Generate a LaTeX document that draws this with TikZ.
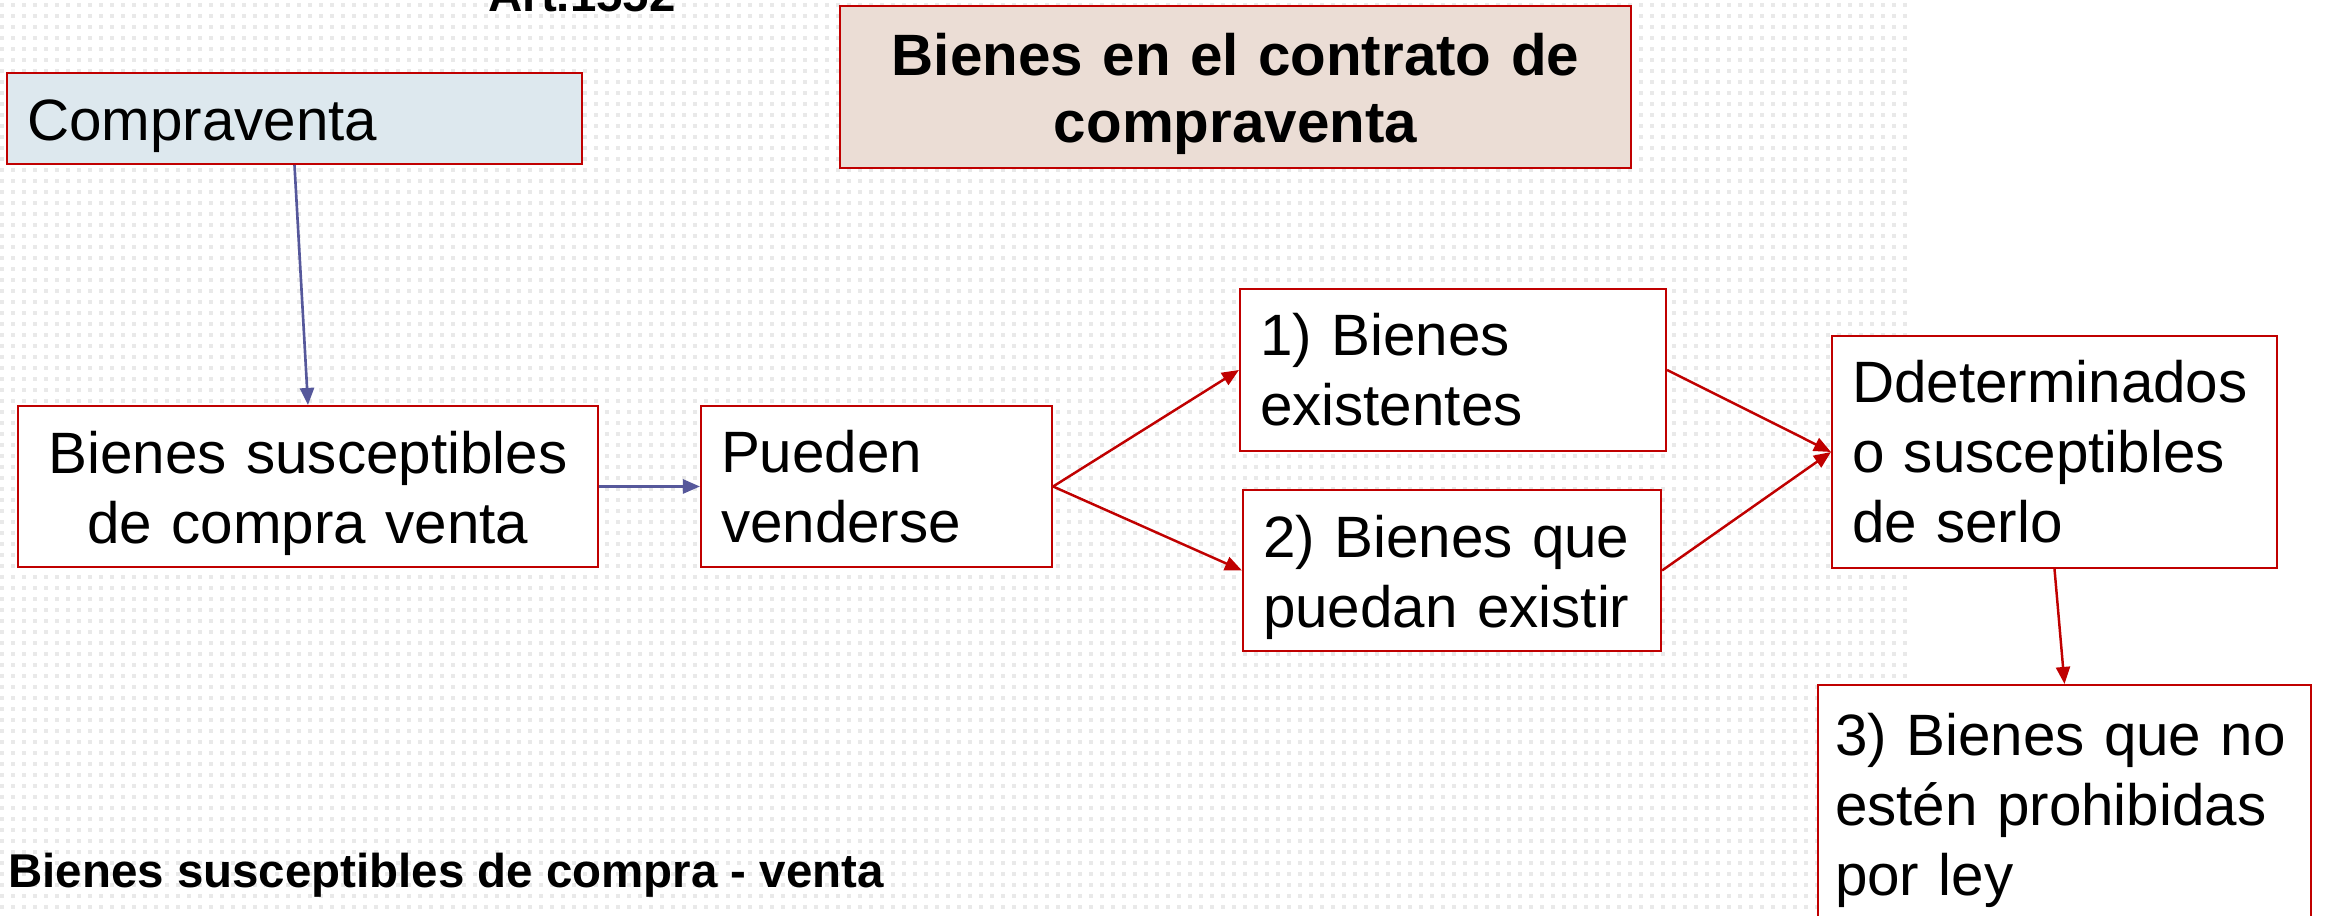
\documentclass[tikz,border=0pt]{standalone}
\usepackage{fontspec}
\setmainfont{Liberation Sans}
\usetikzlibrary{arrows.meta, positioning}
\definecolor{boxred}{RGB}{192,0,0}
\definecolor{linkblue}{RGB}{86,88,155}
\definecolor{compfill}{RGB}{221,232,238}
\definecolor{titlefill}{RGB}{235,221,213}
\definecolor{dotgray}{RGB}{233,233,233}
\tikzset{
  box/.style     = {draw=boxred, line width=0.6pt, fill=white, align=left,
                    inner xsep=0.2cm, inner ysep=0pt,
                    font=\fontsize{16.6}{19.9}\selectfont},
  titlebox/.style = {box, fill=titlefill, align=center,
                    font=\fontsize{16.6}{19}\selectfont\bfseries},
  lower/.style   = {execute at begin node={\rule{0pt}{16pt}}},
  label/.style   = {font=\fontsize{13.5}{16}\selectfont\bfseries, inner sep=0pt},
  bluearrow/.style = {-{Triangle[length=0.17cm, width=0.14cm]}, line width=0.75pt, color=linkblue},
  redarrow/.style  = {-{Triangle[length=0.17cm, width=0.14cm]}, line width=0.7pt, color=boxred},
  dotrow/.style  = {dotgray, line width=0.035cm, dash pattern=on 0.035cm off 0.075cm},
}

\begin{document}
\begin{tikzpicture}
  \useasboundingbox[fill=white] (0,0) rectangle (23.26,-9.16);
  % dotted background
  \foreach \r in {0,...,83} {
    \draw[dotrow] (0,{-0.05-0.11*\r}) -- (19.09,{-0.05-0.11*\r});
  }
  % texts
  \node[label, anchor=base] (art) at (5.82,-0.12) {Art.1552};
  \node[label, anchor=base west] (pie) at (0.076,-8.88) {Bienes susceptibles de compra - venta};
  % nodes
  \node[titlebox, lower, text width=7.51cm, minimum height=1.62cm] (titulo) at (12.355,-0.87)
    {Bienes en el contrato de\\ compraventa};
  \node[box, lower, fill=compfill, text width=5.35cm, minimum height=0.91cm] (comp) at (2.945,-1.185)
    {Compraventa};
  \node[box, lower, align=center, text width=5.40cm, minimum height=1.61cm] (bsc) at (3.08,-4.865)
    {Bienes susceptibles\\ de compra venta};
  \node[box, text width=3.11cm, minimum height=1.61cm] (pueden) at (8.765,-4.865)
    {Pueden\\ venderse};
  \node[box, text width=3.86cm, minimum height=1.62cm] (exist) at (14.53,-3.70)
    {1) Bienes\\ existentes};
  \node[box, lower, text width=3.78cm, minimum height=1.61cm] (posib) at (14.52,-5.705)
    {2) Bienes que\\ puedan existir};
  \node[box, text width=4.05cm, minimum height=2.32cm] (determ) at (20.545,-4.52)
    {Ddeterminados\\ o susceptibles\\ de serlo};
  \node[box, inner xsep=0.17cm, text width=4.59cm, minimum height=2.50cm] (prohib) at (20.645,-8.10)
    {3) Bienes que no\\ estén prohibidas\\ por ley};
  % links
  \draw[bluearrow] (comp.south) -- (bsc.north);
  \draw[bluearrow] (bsc.east) -- (pueden.west);
  \draw[redarrow] (pueden.east) -- (exist.west);
  \draw[redarrow] (pueden.east) -- (posib.west);
  \draw[redarrow] (exist.east) -- (determ.west);
  \draw[redarrow] (posib.east) -- (determ.west);
  \draw[redarrow] (determ.south) -- (prohib.north);
\end{tikzpicture}
\end{document}
